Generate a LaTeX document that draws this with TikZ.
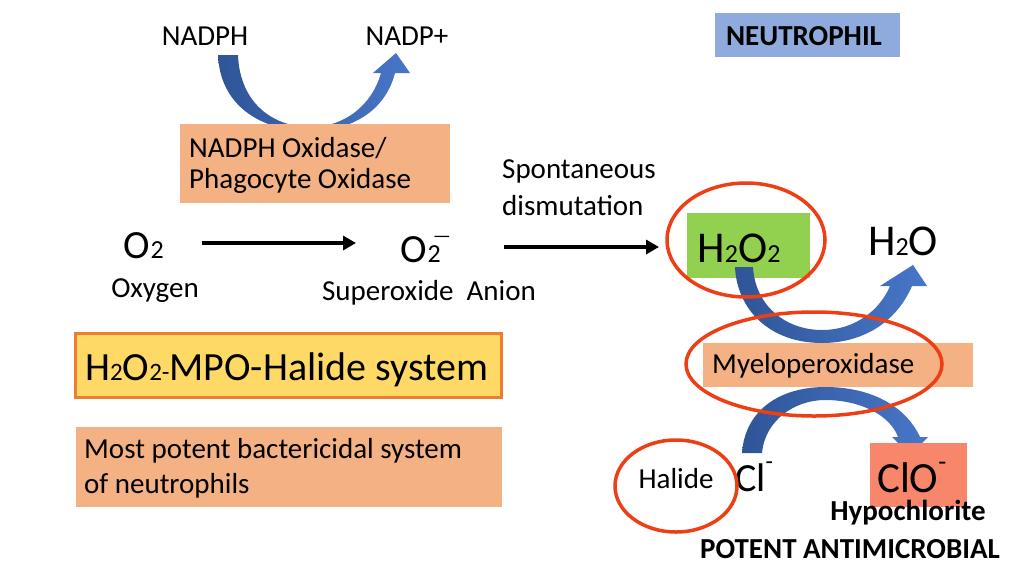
\documentclass[tikz,border=0pt]{standalone}
\usepackage{fontspec}
\setmainfont{Carlito}
\usetikzlibrary{arrows.meta}
\definecolor{salmonbox}{RGB}{244,177,131}
\definecolor{neutblue}{RGB}{143,170,220}
\definecolor{h2ogreen}{RGB}{146,208,80}
\definecolor{sysyellow}{RGB}{255,217,102}
\definecolor{sysorange}{RGB}{237,125,49}
\definecolor{clobox}{RGB}{248,134,106}
\definecolor{ringred}{RGB}{238,62,20}
\definecolor{bluedark}{RGB}{47,85,151}
\definecolor{bluelight}{RGB}{72,118,200}
\newcommand{\smalltwo}[1]{{\fontsize{#1}{#1}\selectfont 2}}
\begin{document}
\begin{tikzpicture}[x=1pt,y=-1pt,
  txt/.style={inner sep=0pt, font=\fontsize{29}{35}\selectfont},
  bigtxt/.style={inner sep=0pt, font=\fontsize{44}{50}\selectfont},
  boldtxt/.style={inner sep=0pt, font=\fontsize{29}{35}\selectfont\bfseries},
  ring/.style={draw=ringred, line width=3.5pt},
  blackarrow/.style={line width=3.5pt, -{Triangle[length=13pt,width=14pt]}},
  bluearrow/.style={left color=bluedark, right color=bluelight, draw=none}]
\useasboundingbox (0,0) rectangle (1024,576);
\fill[white] (0,0) rectangle (1024,576);

% ---- NADPH arrow and box
\path[bluearrow] (218,55) -- (238,55) .. controls (240,105) and (275,127) .. (310,127)
  .. controls (345,127) and (372,105) .. (381,73) -- (373,73) -- (396,53) -- (410,73) -- (395,73)
  .. controls (385,112) and (350,131) .. (310,131) .. controls (260,131) and (220,105) .. (218,55) -- cycle;
\node[txt, anchor=base] (nadph) at (205,45) {NADPH};
\node[txt, anchor=base] (nadpp) at (407,45) {NADP+};
\node[fill=salmonbox, minimum width=270pt, minimum height=79pt, inner sep=0pt] (oxbox) at (315,163.5) {};
\node[txt, anchor=base west] (ox1) at (189,157) {NADPH Oxidase/};
\node[txt, anchor=base west] (ox2) at (189,188) {Phagocyte Oxidase};

% ---- NEUTROPHIL
\node[fill=neutblue, minimum width=185pt, minimum height=44pt, inner sep=0pt] (neutbox) at (807.5,35) {};
\node[boldtxt, anchor=base] (neut) at (804,45) {NEUTROPHIL};

% ---- main reaction line
\node[bigtxt, anchor=base west, font=\fontsize{40}{44}\selectfont] (o2) at (123,258) {O\kern1pt\smalltwo{26}};
\node[txt, anchor=base] (oxygen) at (155,297) {Oxygen};
\node[bigtxt, anchor=base west, font=\fontsize{40}{44}\selectfont] (o2m) at (400,262) {O\kern1pt{\fontsize{26}{26}\selectfont 2}\kern-8pt\raisebox{20pt}{\fontsize{20}{20}\selectfont —}};
\node[txt, anchor=base] (superox) at (429,300) {Superoxide\ \ Anion};
\coordinate (a1s) at (202,243);
\coordinate (a1e) at (356,243);
\draw[blackarrow] (a1s) -- (a1e);
\node[txt, anchor=base west] (spont1) at (502,178) {Spontaneous};
\node[txt, anchor=base west] (spont2) at (502,215) {dismutation};
\coordinate (a2s) at (504,247);
\coordinate (a2e) at (659,247);
\draw[blackarrow] (a2s) -- (a2e);

% ---- H2O2 box and arrow to H2O
\node[fill=h2ogreen, minimum width=123pt, minimum height=65pt, inner sep=0pt] (h2o2box) at (748.5,245.5) {};
\node[bigtxt, anchor=base] (h2o2) at (739,262) {H\smalltwo{26}O\smalltwo{26}};
\node[bigtxt, anchor=base] (h2o) at (903,255) {H\smalltwo{26}O};
\node[fill=salmonbox, minimum width=270pt, minimum height=44pt, inner sep=0pt] (mpobox) at (838,365) {};
\path[bluearrow] (735,267) -- (753,267) .. controls (755,305) and (785,330) .. (822,330)
  .. controls (855,330) and (880,310) .. (890,286) -- (880,286) -- (913,265) -- (927,286) -- (912,286)
  .. controls (895,325) and (860,343) .. (822,343) .. controls (770,343) and (737,310) .. (735,267) -- cycle;
\node[txt, anchor=base west] (mpo) at (712,373) {Myeloperoxidase};

% ---- Cl- to ClO- arrow
\path[bluearrow] (742,453) -- (762,453) .. controls (765,420) and (795,400) .. (825,400)
  .. controls (860,400) and (890,415) .. (898,437) -- (892,437) -- (910,455) -- (928,437) -- (920,437)
  .. controls (905,405) and (870,387) .. (825,387) .. controls (780,387) and (745,410) .. (742,453) -- cycle;
\node[fill=clobox, minimum width=97pt, minimum height=64pt, inner sep=0pt] (clobox) at (918.5,475) {};
\node[bigtxt, anchor=base west, font=\fontsize{40}{44}\selectfont] (cl) at (735,491) {Cl\raisebox{0.55em}{\fontsize{24}{24}\selectfont -}};
\node[bigtxt, anchor=base west, font=\fontsize{43}{46}\selectfont] (clo) at (877,492) {ClO\raisebox{0.5em}{\fontsize{26}{26}\selectfont -}};
\node[txt, anchor=base] (halide) at (676,488) {Halide};
\node[boldtxt, anchor=base] (hypo) at (908,520) {Hypochlorite};
\node[boldtxt, anchor=base] (potent) at (850,558) {POTENT ANTIMICROBIAL};

% ---- left boxes
\node[fill=sysyellow, draw=sysorange, line width=3pt, minimum width=426pt, minimum height=64pt, inner sep=0pt] (sysbox) at (288.5,365.5) {};
\node[bigtxt, anchor=base west, font=\fontsize{40}{44}\selectfont] (sys) at (85,380) {H\smalltwo{25}O{\fontsize{25}{25}\selectfont 2-}MPO-Halide system};
\node[fill=salmonbox, minimum width=426pt, minimum height=80pt, inner sep=0pt] (potbox) at (289,467) {};
\node[txt, anchor=base west] (pot1) at (84,458) {Most potent bactericidal system};
\node[txt, anchor=base west] (pot2) at (84,493) {of neutrophils};

% ---- red rings
\draw[ring] (746,240) ellipse [x radius=79, y radius=57];
\draw[ring] (814,364) ellipse [x radius=128, y radius=52];
\draw[ring] (676,486) ellipse [x radius=61, y radius=46];
\end{tikzpicture}
\end{document}
